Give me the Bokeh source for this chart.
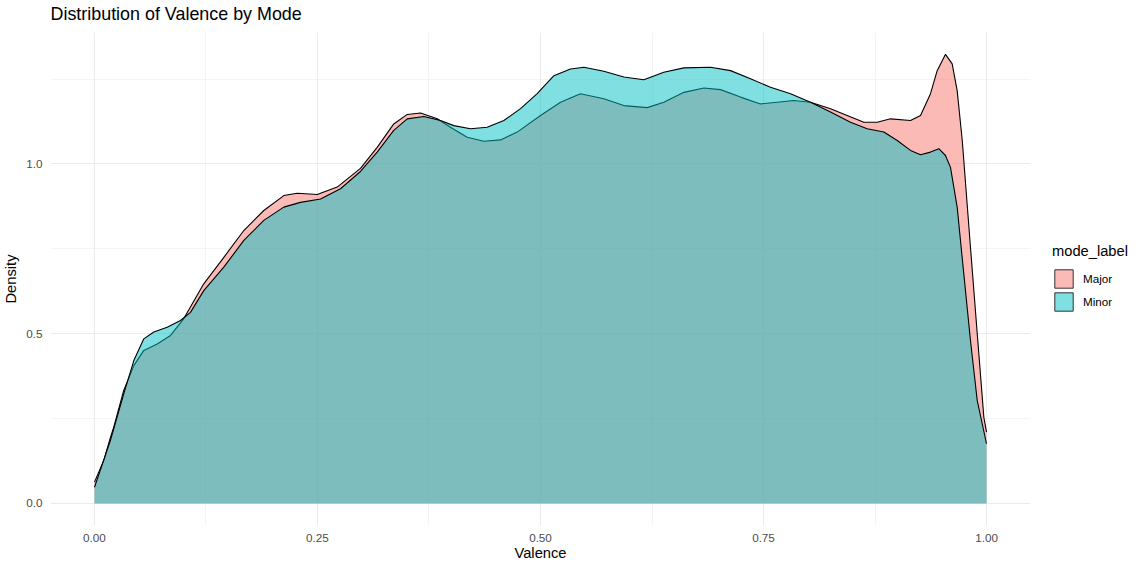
from bokeh.plotting import figure
from bokeh.models import FixedTicker, Legend, LegendItem, Range1d, Title
from bokeh.embed import file_html
from bokeh.resources import INLINE

# ---- data ----
major_x = [0.000, 0.0104, 0.0179, 0.0216, 0.0328, 0.0441, 0.0553, 0.0703, 0.0852, 0.100,
           0.1225, 0.145, 0.1674, 0.1898, 0.2122, 0.2272, 0.2497, 0.2721, 0.2982, 0.3169,
           0.3355, 0.3506, 0.3655, 0.3842, 0.3991, 0.4178, 0.4364, 0.4552, 0.4739, 0.500,
           0.5224, 0.5448, 0.571, 0.5934, 0.6196, 0.6382, 0.6607, 0.6831, 0.7018, 0.7242,
           0.7466, 0.7654, 0.784, 0.8027, 0.8251, 0.8438, 0.8625, 0.8775, 0.8924, 0.9148,
           0.926, 0.9372, 0.9447, 0.954, 0.9615, 0.9671, 0.9728, 0.982, 0.9896, 0.997, 1.000]
major_y = [0.063, 0.127, 0.195, 0.225, 0.333, 0.406, 0.451, 0.470, 0.495, 0.544,
           0.647, 0.725, 0.804, 0.863, 0.907, 0.914, 0.910, 0.932, 0.987, 1.049,
           1.118, 1.146, 1.150, 1.133, 1.108, 1.079, 1.067, 1.071, 1.094, 1.143,
           1.182, 1.207, 1.192, 1.172, 1.166, 1.182, 1.211, 1.224, 1.219, 1.197,
           1.177, 1.182, 1.187, 1.182, 1.163, 1.143, 1.123, 1.123, 1.133, 1.128,
           1.143, 1.207, 1.275, 1.323, 1.295, 1.216, 1.069, 0.755, 0.500, 0.254, 0.210]

minor_x = [0.000, 0.0179, 0.0328, 0.0441, 0.0553, 0.0665, 0.0815, 0.0964, 0.1076, 0.1225,
           0.145, 0.1674, 0.1898, 0.2122, 0.2309, 0.2534, 0.2758, 0.2982, 0.3169, 0.3355,
           0.3506, 0.3692, 0.3879, 0.4028, 0.4215, 0.4402, 0.4589, 0.4776, 0.4963, 0.515,
           0.5336, 0.5486, 0.571, 0.5934, 0.6158, 0.6382, 0.6607, 0.6906, 0.713, 0.7354,
           0.7578, 0.7803, 0.8027, 0.8251, 0.8475, 0.8662, 0.8849, 0.8999, 0.9148, 0.926,
           0.9372, 0.9465, 0.954, 0.9596, 0.9671, 0.9745, 0.982, 0.9896, 1.000]
minor_y = [0.048, 0.186, 0.323, 0.421, 0.485, 0.505, 0.519, 0.539, 0.563, 0.627,
           0.696, 0.775, 0.834, 0.873, 0.887, 0.897, 0.927, 0.978, 1.035, 1.099,
           1.133, 1.140, 1.128, 1.113, 1.104, 1.108, 1.128, 1.163, 1.207, 1.260,
           1.280, 1.285, 1.273, 1.256, 1.248, 1.270, 1.283, 1.285, 1.275, 1.251,
           1.226, 1.207, 1.182, 1.153, 1.123, 1.104, 1.094, 1.069, 1.040, 1.027,
           1.035, 1.045, 1.025, 0.990, 0.873, 0.677, 0.480, 0.303, 0.176]

series_labels = ["Major", "Minor"]
series_colors = ["#F8766D", "#00BFC4"]

x_ticks = [0.0, 0.25, 0.5, 0.75, 1.0]
x_tick_labels = ["0.00", "0.25", "0.50", "0.75", "1.00"]
x_minor = [0.125, 0.375, 0.625, 0.875]
y_ticks = [0.0, 0.5, 1.0]
y_tick_labels = ["0.0", "0.5", "1.0"]
y_minor = [0.25, 0.75, 1.25]

FONT = "Liberation Sans"

p = figure(frame_width=980, frame_height=493,
           x_range=Range1d(-0.0493, 1.0493), y_range=Range1d(-0.0648, 1.3873),
           output_backend="svg", toolbar_location=None,
           min_border_left=42, min_border_right=103, min_border_top=24, min_border_bottom=37,
           title="Distribution of Valence by Mode")

p.background_fill_color = "white"
p.border_fill_color = "white"
p.outline_line_color = None

# title
p.title.text_font = FONT
p.title.text_font_size = "17.9px"
p.title.text_font_style = "normal"
p.title.text_color = "black"
p.title.align = "left"
p.title.standoff = 2
# thin spacer between title and panel
p.add_layout(Title(text=" ", text_font_size="1px", standoff=5), "above")

# grids
p.xgrid.ticker = FixedTicker(ticks=x_ticks, minor_ticks=x_minor)
p.ygrid.ticker = FixedTicker(ticks=y_ticks, minor_ticks=y_minor)
for g in (p.xgrid, p.ygrid):
    g.grid_line_color = "#EBEBEB"
    g.grid_line_width = 1.1
    g.minor_grid_line_color = "#EBEBEB"
    g.minor_grid_line_width = 0.55

# axes
p.xaxis.ticker = FixedTicker(ticks=x_ticks)
p.yaxis.ticker = FixedTicker(ticks=y_ticks)
p.xaxis.major_label_overrides = dict(zip(x_ticks, x_tick_labels))
p.yaxis.major_label_overrides = dict(zip(y_ticks, y_tick_labels))
p.xaxis.axis_label = "Valence"
p.yaxis.axis_label = "Density"
for ax in (p.xaxis, p.yaxis):
    ax.axis_line_color = None
    ax.major_tick_line_color = None
    ax.minor_tick_line_color = None
    ax.major_tick_out = 0
    ax.major_tick_in = 0
    ax.major_label_text_font = FONT
    ax.major_label_text_font_size = "11.7px"
    ax.major_label_text_color = "#4D4D4D"
    ax.axis_label_text_font = FONT
    ax.axis_label_text_font_size = "14.7px"
    ax.axis_label_text_font_style = "normal"
    ax.axis_label_text_color = "black"
p.xaxis.major_label_standoff = 8
p.xaxis.axis_label_standoff = 0
p.yaxis.major_label_standoff = 8
p.yaxis.axis_label_standoff = 4

# densities: area then upper outline, Major first then Minor
series = [(major_x, major_y), (minor_x, minor_y)]
items = []
for (xs, ys), lab, col in zip(series, series_labels, series_colors):
    p.varea(x=xs, y1=[0.0] * len(xs), y2=ys, fill_color=col, fill_alpha=0.5)
    p.line(x=xs, y=ys, line_color="black", line_width=1.1)
    # legend key: an invisible box spanning the series, drawn only as a legend swatch
    key = p.quad(left=[min(xs)], right=[max(xs)], bottom=[0.0], top=[max(ys)],
                 fill_color=col, fill_alpha=0.5, line_color="#333333", line_width=1.0,
                 visible=False)
    items.append(LegendItem(label=lab, renderers=[key]))

legend = Legend(items=items, location=(22, 212), title="mode_label",
                title_text_font=FONT, title_text_font_size="14.7px", title_text_color="black",
                title_text_font_style="normal", title_standoff=8,
                label_text_font=FONT, label_text_font_size="11.7px", label_text_color="black",
                glyph_width=23, glyph_height=23, label_height=23, spacing=0, label_standoff=8,
                padding=0, margin=0, border_line_color=None, background_fill_alpha=0,
                inactive_fill_alpha=0)
p.add_layout(legend, "right")

open("out.html", "w").write(file_html(p, INLINE))
